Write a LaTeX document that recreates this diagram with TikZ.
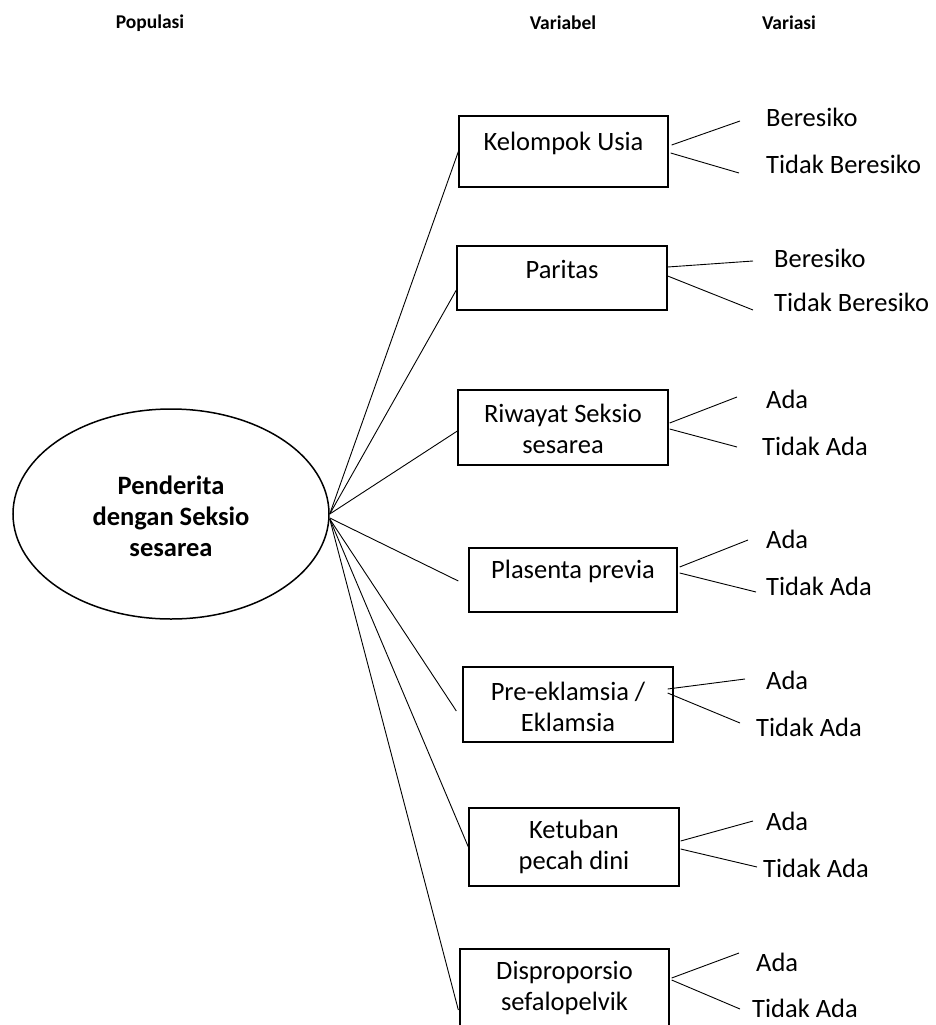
\documentclass[tikz,border=0pt]{standalone}
\usepackage{fontspec}
\setmainfont{Carlito}
\usetikzlibrary{calc,shapes.geometric}
\tikzset{
  vbox/.style={draw, line width=1.3pt, inner sep=0pt},
  btxt/.style={font=\fontsize{26.5}{31}\selectfont, align=center, inner sep=0pt},
  vtxt/.style={font=\fontsize{26.5}{31}\selectfont, anchor=west, inner sep=0pt},
  head/.style={font=\fontsize{19.5}{23}\selectfont\bfseries, inner sep=0pt},
  conn/.style={line width=0.9pt},
}
\begin{document}
\begin{tikzpicture}[x=1pt, y=-1pt]
\useasboundingbox (0,0) rectangle (936,1025);
\clip (0,0) rectangle (936,1025);
% headers
\node[head] (hpop) at (150,23) {Populasi};
\node[head] (hvar) at (563,23) {Variabel};
\node[head] (hvrs) at (789,23) {Variasi};
% population ellipse
\node[draw, ellipse, line width=1.5pt, minimum width=316pt, minimum height=210pt, inner sep=0pt] (pop) at (171,514) {};
\node[btxt, font=\fontsize{26.5}{31}\selectfont\bfseries] (poptxt) at (171,516) {Penderita\\dengan Seksio\\sesarea};
% variable boxes
\node[vbox, minimum width=209pt, minimum height=71pt] (b1) at (563.5,151.5) {};
\node[btxt] (t1) at (563.5,143) {Kelompok Usia};
\node[vbox, minimum width=210pt, minimum height=64pt] (b2) at (562,278) {};
\node[btxt] (t2) at (562,269) {Paritas};
\node[vbox, minimum width=210pt, minimum height=75pt] (b3) at (563,427.5) {};
\node[btxt] (t3) at (563,429) {Riwayat Seksio\\sesarea};
\node[vbox, minimum width=208pt, minimum height=64pt] (b4) at (573,580) {};
\node[btxt] (t4) at (573,571) {Plasenta previa};
\node[vbox, minimum width=210pt, minimum height=75pt] (b5) at (568,704.5) {};
\node[btxt] (t5) at (568,707) {Pre-eklamsia /\\Eklamsia};
\node[vbox, minimum width=210pt, minimum height=78pt] (b6) at (574,847) {};
\node[btxt] (t6) at (574,846.5) {Ketuban\\pecah dini};
\node[vbox, minimum width=209pt, minimum height=78pt] (b7) at (564.5,988) {};
\node[btxt] (t7) at (564.5,988.5) {Disproporsio\\sefalopelvik};
% variation labels
\node[vtxt] (v1a) at (766,117) {Beresiko};
\node[vtxt] (v1b) at (766,164) {Tidak Beresiko};
\node[vtxt] (v2a) at (774,258) {Beresiko};
\node[vtxt] (v2b) at (774,302) {Tidak Beresiko};
\node[vtxt] (v3a) at (766,399) {Ada};
\node[vtxt] (v3b) at (762,446) {Tidak Ada};
\node[vtxt] (v4a) at (766,539) {Ada};
\node[vtxt] (v4b) at (766,586) {Tidak Ada};
\node[vtxt] (v5a) at (766,680) {Ada};
\node[vtxt] (v5b) at (756,727) {Tidak Ada};
\node[vtxt] (v6a) at (766,821) {Ada};
\node[vtxt] (v6b) at (763,868) {Tidak Ada};
\node[vtxt] (v7a) at (756,962) {Ada};
\node[vtxt] (v7b) at (752,1008) {Tidak Ada};
% free ends of variation connectors
\coordinate (e1a) at (740,121); \coordinate (e1b) at (739,173);
\coordinate (e2a) at (753,261); \coordinate (e2b) at (753,310);
\coordinate (e3a) at (737,397); \coordinate (e3b) at (737,447);
\coordinate (e4a) at (748,540); \coordinate (e4b) at (756,592);
\coordinate (e5a) at (745,679); \coordinate (e5b) at (740,723);
\coordinate (e6a) at (753,821); \coordinate (e6b) at (757,867);
\coordinate (e7a) at (739,953); \coordinate (e7b) at (740,1009);
% population to variables
\draw[conn] (pop.east) -- (b1.west);
\draw[conn] (pop.east) -- ($(b2.west)+(0,12)$);
\draw[conn] (pop.east) -- ($(b3.west)+(0,3.5)$);
\draw[conn] ($(pop.east)+(0,4)$) -- ($(b4.west)+(-10,1)$);
\draw[conn] ($(pop.east)+(0,5)$) -- ($(b5.west)+(-6,6.5)$);
\draw[conn] ($(pop.east)+(0,5)$) -- (b6.west);
\draw[conn] ($(pop.east)+(0,5)$) -- ($(b7.west)+(-1,22)$);
% variables to variations
\draw[conn] ($(b1.east)+(3,-6.5)$) -- (e1a);
\draw[conn] ($(b1.east)+(2,1.5)$) -- (e1b);
\draw[conn] ($(b2.east)+(0,-11)$) -- (e2a);
\draw[conn] ($(b2.east)+(0,-2)$) -- (e2b);
\draw[conn] ($(b3.east)+(1,-4.5)$) -- (e3a);
\draw[conn] ($(b3.east)+(1,1.5)$) -- (e3b);
\draw[conn] ($(b4.east)+(2,-13)$) -- (e4a);
\draw[conn] ($(b4.east)+(2,-7)$) -- (e4b);
\draw[conn] ($(b5.east)+(-6,-15.5)$) -- (e5a);
\draw[conn] ($(b5.east)+(-6,-11.5)$) -- (e5b);
\draw[conn] ($(b6.east)+(1,-6)$) -- (e6a);
\draw[conn] ($(b6.east)+(1,2)$) -- (e6b);
\draw[conn] ($(b7.east)+(2,-10)$) -- (e7a);
\draw[conn] ($(b7.east)+(2,-8)$) -- (e7b);
\end{tikzpicture}
\end{document}
